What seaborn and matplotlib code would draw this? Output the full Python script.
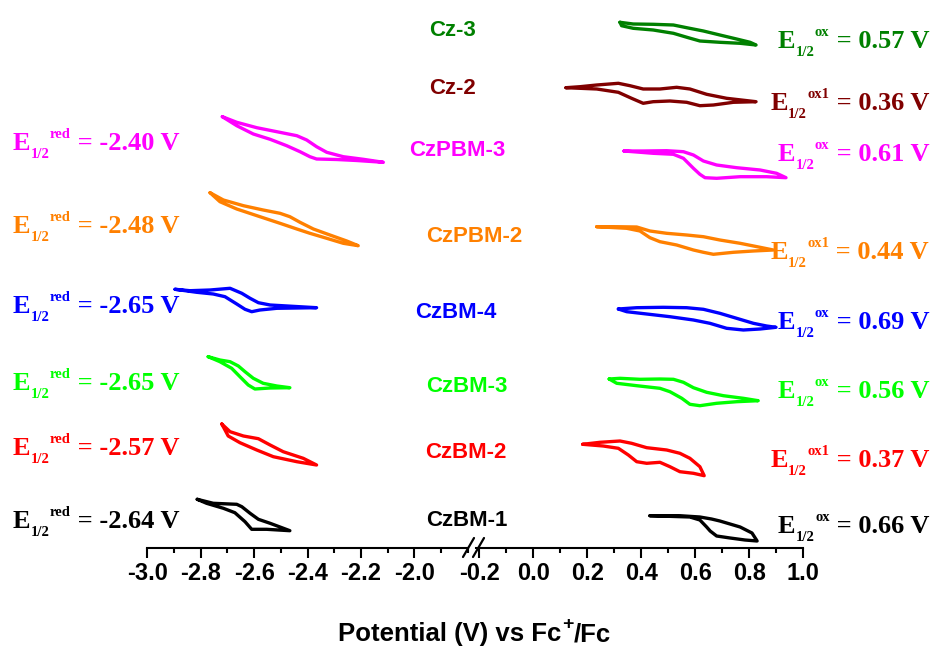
import numpy as np
import seaborn as sns
import matplotlib.pyplot as plt
import matplotlib.lines as mlines
from matplotlib.ticker import MultipleLocator

# ---- data (potential in V vs Fc+/Fc, current in arbitrary stacked units) ----
names = ["CzBM-1", "CzBM-2", "CzBM-3", "CzBM-4", "CzPBM-2", "CzPBM-3", "Cz-2", "Cz-3"]
colors = ["black", "#ff0000", "#00ff00", "#0000ff", "#ff8000", "#ff00ff", "#800000", "#008000"]
e_red = ["-2.64", "-2.57", "-2.65", "-2.65", "-2.48", "-2.40", None, None]
e_ox = ["0.66", "0.37", "0.56", "0.69", "0.44", "0.61", "0.36", "0.57"]
ox_tag = ["ox", "ox1", "ox", "ox", "ox1", "ox", "ox1", "ox"]

# reduction scans
czbm1_red_v = [-2.813, -2.753, -2.665, -2.646, -2.615, -2.584, -2.540, -2.466,
               -2.553, -2.609, -2.634, -2.672, -2.715, -2.778, -2.813]
czbm1_red_i = [48.7, 44.7, 43.7, 41.3, 34.7, 28.7, 24.7, 17.3,
               18.7, 18.7, 26.3, 35.3, 39.7, 44.7, 48.7]
czbm2_red_v = [-2.721, -2.690, -2.640, -2.584, -2.540, -2.491, -2.416, -2.366,
               -2.440, -2.528, -2.590, -2.653, -2.697, -2.721]
czbm2_red_i = [124, 116.3, 112, 109.3, 103, 96.3, 89.7, 83,
               86.3, 91.3, 98, 105.3, 112, 124]
czbm3_red_v = [-2.772, -2.728, -2.690, -2.659, -2.634, -2.603, -2.566, -2.515, -2.466,
               -2.540, -2.597, -2.622, -2.653, -2.684, -2.728, -2.772]
czbm3_red_i = [191.3, 188, 186.3, 182, 176.3, 169.7, 164.7, 162, 160.3,
               160, 159, 163, 171.3, 179.7, 186.3, 191.3]
czbm4_red_v = [-2.896, -2.840, -2.765, -2.690, -2.646, -2.615, -2.584, -2.540, -2.366,
               -2.515, -2.578, -2.609, -2.634, -2.665, -2.709, -2.753, -2.815, -2.896]
czbm4_red_i = [258.7, 257.3, 258, 259.7, 254.7, 249.7, 245.3, 243, 240.3,
               239.7, 238, 236.3, 238.7, 244, 251.3, 254, 255.7, 258.7]
czpbm2_red_v = [-2.765, -2.715, -2.640, -2.566, -2.503, -2.466, -2.428, -2.378, -2.316, -2.253, -2.210,
                -2.266, -2.328, -2.391, -2.440, -2.503, -2.578, -2.665, -2.728, -2.765]
czpbm2_red_i = [355.3, 348, 342.3, 338, 334.7, 331.3, 325.7, 319, 313, 307, 302.3,
                304.7, 309.7, 314.7, 319, 324.7, 331.3, 339, 346.3, 355.3]
czpbm3_red_v = [-2.719, -2.665, -2.590, -2.515, -2.440, -2.403, -2.366, -2.328, -2.266, -2.191, -2.116,
                -2.216, -2.291, -2.366, -2.391, -2.428, -2.478, -2.540, -2.603, -2.665, -2.719]
czpbm3_red_i = [431.3, 425.7, 420.3, 416.3, 412.3, 408, 401.3, 395.7, 391.3, 388.7, 385.7,
                387.5, 388.5, 389, 391.3, 396.3, 402.3, 408.7, 414, 422.3, 431.3]

# oxidation scans
czbm1_ox_v = [0.432, 0.543, 0.617, 0.660, 0.691, 0.766, 0.810, 0.829,
              0.784, 0.729, 0.679, 0.655, 0.642, 0.617, 0.580, 0.432]
czbm1_ox_i = [32.3, 32.3, 31, 29, 27, 21, 15, 7,
              8, 10, 12, 17, 21, 28, 31, 32.3]
czbm2_ox_v = [0.183, 0.247, 0.321, 0.364, 0.420, 0.494, 0.543, 0.580, 0.617, 0.633,
              0.593, 0.543, 0.506, 0.469, 0.420, 0.383, 0.352, 0.315, 0.259, 0.183]
czbm2_ox_i = [103.7, 105.7, 107, 104.7, 100.3, 98, 94.7, 89.7, 81.3, 72.3,
              74.7, 76.3, 81.3, 85.7, 84.7, 86.3, 93, 99.7, 102, 103.7]
czbm3_ox_v = [0.281, 0.321, 0.395, 0.469, 0.519, 0.556, 0.593, 0.642, 0.704, 0.778, 0.833,
              0.753, 0.679, 0.617, 0.580, 0.550, 0.506, 0.469, 0.383, 0.309, 0.281]
czbm3_ox_i = [169, 169.7, 168.7, 169, 168.7, 165.7, 160.3, 155.7, 152.3, 149.7, 147.3,
              146.3, 144.7, 142.3, 143.7, 149.7, 156.3, 159.7, 162.3, 164.7, 169]
czbm4_ox_v = [0.315, 0.383, 0.481, 0.568, 0.630, 0.691, 0.753, 0.815, 0.864, 0.899,
              0.840, 0.778, 0.716, 0.654, 0.593, 0.506, 0.420, 0.346, 0.315]
czbm4_ox_i = [239, 240.3, 240.7, 240.3, 238.7, 234.7, 229.7, 224.7, 222, 220.7,
              219, 218, 219.7, 224.7, 228, 231.3, 234, 236.3, 239]
czpbm2_ox_v = [0.235, 0.309, 0.383, 0.432, 0.494, 0.568, 0.630, 0.691, 0.766, 0.840, 0.889,
               0.815, 0.741, 0.667, 0.630, 0.593, 0.531, 0.469, 0.432, 0.395, 0.346, 0.235]
czpbm2_ox_i = [321.3, 321.3, 321, 317, 314.7, 313, 311.3, 308, 304.7, 300.7, 298,
               297, 295.7, 293.7, 295.7, 298, 303, 306.3, 310.3, 317, 319.7, 321.3]
czpbm3_ox_v = [0.336, 0.407, 0.494, 0.556, 0.593, 0.630, 0.679, 0.753, 0.840, 0.901, 0.936,
               0.864, 0.766, 0.679, 0.636, 0.617, 0.593, 0.556, 0.519, 0.444, 0.336]
czpbm3_ox_i = [397, 397, 397.3, 396.3, 393, 387, 383, 380.3, 378, 374.7, 370.3,
               371.3, 371.3, 369.7, 370.3, 373.7, 379.7, 389.7, 393.7, 394.7, 397]
cz2_ox_v = [0.121, 0.173, 0.235, 0.315, 0.358, 0.407, 0.469, 0.531, 0.580, 0.642, 0.716, 0.825,
            0.741, 0.667, 0.617, 0.568, 0.506, 0.444, 0.407, 0.364, 0.315, 0.235, 0.173, 0.121]
cz2_ox_i = [460.3, 461.3, 463, 464.7, 462.3, 459, 459, 460.7, 459, 453.7, 449.7, 446.3,
            445.7, 443, 442.3, 445.7, 447, 446.3, 444.7, 449.7, 455.7, 459, 459.7, 460.3]
cz3_ox_v = [0.321, 0.370, 0.444, 0.519, 0.568, 0.630, 0.691, 0.753, 0.803, 0.825,
            0.766, 0.691, 0.617, 0.574, 0.519, 0.444, 0.370, 0.327, 0.321]
cz3_ox_i = [525.7, 524, 523.7, 523, 520.3, 517, 513, 509, 505.7, 503,
            504.7, 505.7, 507, 510.3, 514.7, 518, 519.7, 522.3, 525.7]

red_scans = [(czbm1_red_v, czbm1_red_i), (czbm2_red_v, czbm2_red_i), (czbm3_red_v, czbm3_red_i),
             (czbm4_red_v, czbm4_red_i), (czpbm2_red_v, czpbm2_red_i), (czpbm3_red_v, czpbm3_red_i),
             None, None]
ox_scans = [(czbm1_ox_v, czbm1_ox_i), (czbm2_ox_v, czbm2_ox_i), (czbm3_ox_v, czbm3_ox_i),
            (czbm4_ox_v, czbm4_ox_i), (czpbm2_ox_v, czpbm2_ox_i), (czpbm3_ox_v, czpbm3_ox_i),
            (cz2_ox_v, cz2_ox_i), (cz3_ox_v, cz3_ox_i)]

# label positions (figure pixels, from top)
name_xy = [(467, 521), (466, 452), (467, 387), (456, 312), (474, 236), (457, 150), (453, 88), (453, 30)]
red_base = [528, 455, 390, 313, 233, 150, None, None]
ox_base = [533, 467, 398, 329, 259, 161, 110, 48]

sns.set_style("white")
plt.rcParams["text.color"] = "black"
plt.rcParams["xtick.color"] = "black"
plt.rcParams["axes.edgecolor"] = "black"

W, H = 931, 646
fig = plt.figure(figsize=(W / 100, H / 100), dpi=100)
x0, xb1, xb2, x1 = 147.3, 468, 476, 803.3
yax = 548
ax_l = fig.add_axes([x0 / W, (H - yax) / H, (xb1 - x0) / W, yax / H])
ax_r = fig.add_axes([xb2 / W, (H - yax) / H, (x1 - xb2) / W, yax / H])
ax_l.set_xlim(-3.0, -3.0 + (xb1 - x0) / 267)
ax_r.set_xlim(1.0 - (x1 - xb2) / 270, 1.0)

for k in range(len(names)):
    if red_scans[k] is not None:
        v, i = red_scans[k]
        sns.lineplot(x=v, y=i, sort=False, estimator=None, color=colors[k], lw=2.4, ax=ax_l)
    v, i = ox_scans[k]
    sns.lineplot(x=v, y=i, sort=False, estimator=None, color=colors[k], lw=2.4, ax=ax_r)

for ax in (ax_l, ax_r):
    ax.set_ylim(0, yax)
    ax.patch.set_visible(False)
    for s in ("top", "left", "right"):
        ax.spines[s].set_visible(False)
    ax.spines["bottom"].set_linewidth(1.5)
    ax.set_yticks([])
    ax.xaxis.set_major_locator(MultipleLocator(0.2))
    ax.xaxis.set_minor_locator(MultipleLocator(0.1))
    ax.tick_params(axis="x", which="major", direction="out", length=7, width=1.5,
                   bottom=True, labelsize=17, pad=3)
    ax.tick_params(axis="x", which="minor", direction="out", length=3.8, width=1.5, bottom=True)
    for line in ax.get_lines():
        line.set_clip_on(False)
        line.set_solid_joinstyle("round")
        line.set_solid_capstyle("round")
    ax.set_xlabel("")
    ax.set_ylabel("")

ax_l.set_xticks(np.arange(-3.0, -1.99, 0.2))
ax_l.set_xticklabels(["%.1f" % t for t in np.arange(-3.0, -1.99, 0.2)],
                     fontfamily="Liberation Sans", fontweight="bold")
ax_r.set_xticks(np.arange(-0.2, 1.01, 0.2))
ax_r.set_xticklabels(["%.1f" % (t + 0.0) for t in np.round(np.arange(-0.2, 1.01, 0.2), 1)],
                     fontfamily="Liberation Sans", fontweight="bold")

# axis break marks
for dx in (0, 10):
    fig.add_artist(mlines.Line2D([(463 + dx) / W, (474 + dx) / W],
                                 [(H - 557) / H, (H - 538) / H], color="black", lw=1.6))

# overlay in figure pixels for the text
ax_t = fig.add_axes([0, 0, 1, 1])
ax_t.set_xlim(0, W)
ax_t.set_ylim(H, 0)
ax_t.axis("off")

serif = dict(fontfamily="Liberation Serif", fontweight="bold")
BIG, SMALL = 19, 10.5
SUB, SUP = -5.5, 8.5


def e_label_left(x, yb, tag, value, color):
    t0 = ax_t.text(x, yb, "E", fontsize=BIG, color=color, va="baseline", ha="left", **serif)
    t1 = ax_t.annotate("1/2", xy=(1, yb), xycoords=(t0, "data"), xytext=(0, SUB),
                       textcoords="offset points", fontsize=SMALL, color=color,
                       va="baseline", ha="left", **serif)
    t2 = ax_t.annotate(tag, xy=(1, yb), xycoords=(t1, "data"), xytext=(0.5, SUP),
                       textcoords="offset points", fontsize=SMALL, color=color,
                       va="baseline", ha="left", **serif)
    ax_t.annotate(" = %s V" % value, xy=(1, yb), xycoords=(t2, "data"), xytext=(0, 0),
                  textcoords="offset points", fontsize=BIG, color=color,
                  va="baseline", ha="left", **serif)


def e_label_right(x, yb, tag, value, color):
    t3 = ax_t.text(x, yb, " = %s V" % value, fontsize=BIG, color=color,
                   va="baseline", ha="right", **serif)
    t2 = ax_t.annotate(tag, xy=(0, yb), xycoords=(t3, "data"), xytext=(0, SUP),
                       textcoords="offset points", fontsize=SMALL, color=color,
                       va="baseline", ha="right", **serif)
    t1 = ax_t.annotate("1/2", xy=(0, yb), xycoords=(t2, "data"), xytext=(-0.5, SUB),
                       textcoords="offset points", fontsize=SMALL, color=color,
                       va="baseline", ha="right", **serif)
    ax_t.annotate("E", xy=(0, yb), xycoords=(t1, "data"), xytext=(0, 0),
                  textcoords="offset points", fontsize=BIG, color=color,
                  va="baseline", ha="right", **serif)


for k in range(len(names)):
    px, py = name_xy[k]
    ax_t.text(px, py, names[k], color=colors[k], ha="center", va="center",
              fontsize=16, fontweight="bold", fontfamily="Liberation Sans")
    if e_red[k] is not None:
        e_label_left(13, red_base[k], "red", e_red[k], colors[k])
    e_label_right(929, ox_base[k], ox_tag[k], e_ox[k], colors[k])

# axis title with superscript +
sans = dict(fontfamily="Liberation Sans", fontweight="bold", color="black")
a0 = ax_t.text(338, 641, "Potential (V) vs Fc", fontsize=18.5, va="baseline", ha="left", **sans)
a1 = ax_t.annotate("+", xy=(1, 641), xycoords=(a0, "data"), xytext=(0.5, 8.5),
                   textcoords="offset points", fontsize=14, va="baseline", ha="left", **sans)
ax_t.annotate("/Fc", xy=(1, 641), xycoords=(a1, "data"), xytext=(0, 0),
              textcoords="offset points", fontsize=18.5, va="baseline", ha="left", **sans)

fig.savefig("out.png", dpi=100)
